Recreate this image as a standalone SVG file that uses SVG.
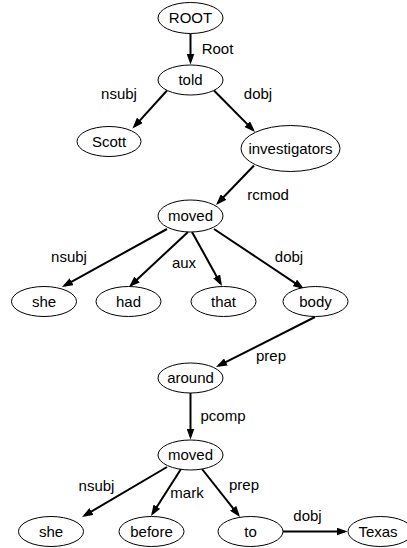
<svg xmlns="http://www.w3.org/2000/svg" width="407" height="548" viewBox="0 0 407 548">
<defs>
<style>
.n ellipse{fill:#fff;stroke:#000;stroke-width:1}
text{font-family:"Liberation Sans",Arial,Helvetica,sans-serif;font-size:15px;fill:#000;text-anchor:middle}
.e line{stroke:#000;stroke-width:2;marker-end:url(#ah)}
</style>
<marker id="ah" markerUnits="userSpaceOnUse" markerWidth="11" markerHeight="8" refX="8" refY="4" orient="auto">
<path d="M0,0 L11,4 L0,8 z" fill="#000"/>
</marker>
</defs>
<rect width="407" height="548" fill="#fff"/>
<g id="edges" class="e">
<line x1="190.5" y1="33.5" x2="190.5" y2="61.5"/>
<line x1="167" y1="90.5" x2="134.5" y2="126.3"/>
<line x1="214" y1="90.5" x2="252.9" y2="129.9"/>
<line x1="254" y1="165.5" x2="218.1" y2="202.8"/>
<line x1="167" y1="229" x2="64.6" y2="285.6"/>
<line x1="188" y1="232" x2="131.2" y2="285"/>
<line x1="192" y1="232" x2="220.5" y2="283.4"/>
<line x1="214" y1="229" x2="301.5" y2="287.3"/>
<line x1="315" y1="317" x2="218.7" y2="365.6"/>
<line x1="190.5" y1="393" x2="190.5" y2="436.5"/>
<line x1="167" y1="467" x2="84.6" y2="515.5"/>
<line x1="181" y1="469" x2="152.6" y2="513.5"/>
<line x1="202" y1="469" x2="238.1" y2="514.6"/>
<line x1="283" y1="531.5" x2="344.5" y2="531.5"/>
</g>
<g id="edge-labels">
<text x="217.5" y="54">Root</text>
<text x="119" y="99">nsubj</text>
<text x="258" y="99">dobj</text>
<text x="268" y="200">rcmod</text>
<text x="69" y="262">nsubj</text>
<text x="184" y="268">aux</text>
<text x="289" y="262">dobj</text>
<text x="271" y="361">prep</text>
<text x="223" y="421">pcomp</text>
<text x="96.5" y="491">nsubj</text>
<text x="187" y="498">mark</text>
<text x="244" y="490">prep</text>
<text x="307.5" y="521">dobj</text>
</g>
<g id="n-root" class="n"><ellipse cx="190.5" cy="18" rx="32.5" ry="15.5"/><text x="190.5" y="23">ROOT</text></g>
<g id="n-told" class="n"><ellipse cx="190.5" cy="80" rx="32.5" ry="15"/><text x="190.5" y="85">told</text></g>
<g id="n-scott" class="n"><ellipse cx="109" cy="141.5" rx="32" ry="15"/><text x="109" y="146.5">Scott</text></g>
<g id="n-investigators" class="n"><ellipse cx="290.5" cy="148.5" rx="49.5" ry="23"/><text x="290.5" y="153.5">investigators</text></g>
<g id="n-moved1" class="n"><ellipse cx="190.5" cy="216" rx="32.5" ry="16"/><text x="190.5" y="221">moved</text></g>
<g id="n-she1" class="n"><ellipse cx="44" cy="301.5" rx="32.5" ry="15"/><text x="44" y="306.5">she</text></g>
<g id="n-had" class="n"><ellipse cx="128.5" cy="301.5" rx="32.5" ry="15"/><text x="128.5" y="306.5">had</text></g>
<g id="n-that" class="n"><ellipse cx="223.5" cy="301.5" rx="32.5" ry="15"/><text x="223.5" y="306.5">that</text></g>
<g id="n-body" class="n"><ellipse cx="315.5" cy="301.5" rx="32.5" ry="15"/><text x="315.5" y="306.5">body</text></g>
<g id="n-around" class="n"><ellipse cx="190.5" cy="378" rx="32.5" ry="15"/><text x="190.5" y="383">around</text></g>
<g id="n-moved2" class="n"><ellipse cx="190.5" cy="455" rx="32.5" ry="15"/><text x="190.5" y="460">moved</text></g>
<g id="n-she2" class="n"><ellipse cx="51" cy="531.5" rx="32.5" ry="15"/><text x="51" y="536.5">she</text></g>
<g id="n-before" class="n"><ellipse cx="151.5" cy="531.5" rx="32.5" ry="15"/><text x="151.5" y="536.5">before</text></g>
<g id="n-to" class="n"><ellipse cx="250.5" cy="531.5" rx="32.5" ry="15"/><text x="250.5" y="536.5">to</text></g>
<g id="n-texas" class="n"><ellipse cx="380.5" cy="531.5" rx="32.5" ry="15"/><text x="378" y="536.5">Texas</text></g>
</svg>
